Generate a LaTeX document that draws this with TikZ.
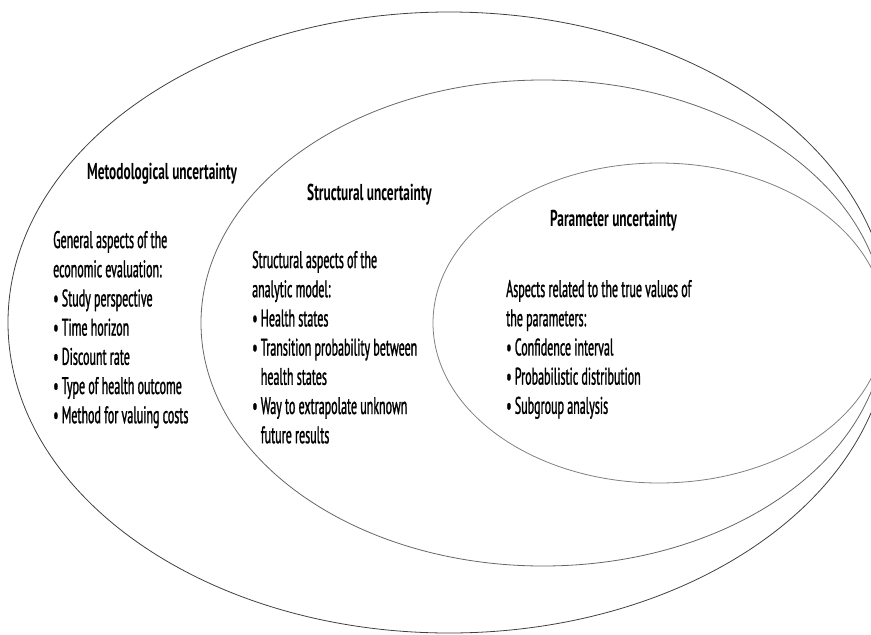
\documentclass[tikz,border=0pt]{standalone}
\usepackage{fontspec}
\setmainfont{PT Sans}[FakeStretch=0.5,FakeBold=1.1]
\newfontfamily\headfont{PT Sans Bold}[FakeStretch=0.58]
\begin{document}
\begin{tikzpicture}[x=1pt,y=-1pt,
  ring/.style={line width=0.8pt,draw=black!60},
  heading/.style={anchor=base west,inner sep=0pt,font=\fontsize{23}{26}\headfont},
  body/.style={anchor=base west,inner sep=0pt,font=\fontsize{24}{29.2}\selectfont}]
\useasboundingbox (0,0) rectangle (871,635);
\clip (0,0) rectangle (871,635);

% three nested ellipses sharing the right-hand side
\draw[ring,draw=black!75] (449,322.5) ellipse [x radius=441,y radius=310.5];
\draw[ring] (543,323) ellipse [x radius=342,y radius=243];
\draw[ring,draw=black!50] (659,323) ellipse [x radius=226,y radius=160];

% headings
\node[heading] (methT) at (87,179) {Metodological uncertainty};
\node[heading] (strT) at (307,200) {Structural uncertainty};
\node[heading] (parT) at (550,226) {Parameter uncertainty};

% descriptions
\node[body] (methB) at (53,248) {\begin{tabular}[t]{@{}l@{}}
General aspects of the\\
economic evaluation:\\
• Study perspective\\
• Time horizon\\
• Discount rate\\
• Type of health outcome\\
• Method for valuing costs
\end{tabular}};

\node[body] (strB) at (252,268) {\begin{tabular}[t]{@{}l@{}}
Structural aspects of the\\
analytic model:\\
• Health states\\
• Transition probability between\\
\phantom{• }health states\\
• Way to extrapolate unknown\\
\phantom{• }future results
\end{tabular}};

\node[body] (parB) at (506,297) {\begin{tabular}[t]{@{}l@{}}
Aspects related to the true values of\\
the parameters:\\
• Confidence interval\\
• Probabilistic distribution\\
• Subgroup analysis
\end{tabular}};
\end{tikzpicture}
\end{document}
